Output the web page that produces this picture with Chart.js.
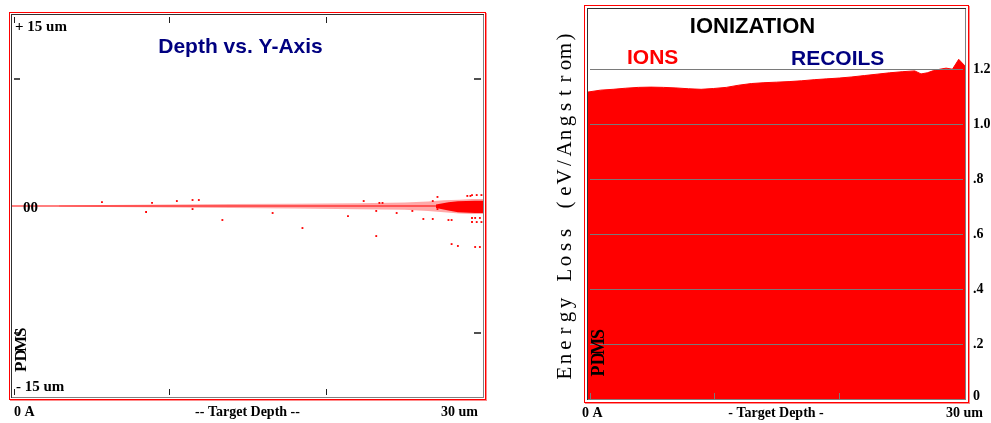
<!DOCTYPE html>
<html><head><meta charset="utf-8">
<script src="https://cdn.jsdelivr.net/npm/chart.js@4.4.0/dist/chart.umd.min.js"></script>
<style>
html,body{margin:0;padding:0;background:#fff;overflow:hidden;width:991px;height:423px}
#c1{position:absolute;left:0;top:0}
#c2{position:absolute;left:495px;top:0}
</style></head><body>
<canvas id="c1" width="495" height="423"></canvas>
<canvas id="c2" width="496" height="423"></canvas>
<script>
// ---------- LEFT PANEL DATA (Depth vs. Y-Axis, um) ----------
const depthMin = 0, depthMax = 30;
const lateralMin = -15, lateralMax = 15;
const trackDepth = [0, 30];
const trackY = [0, 0];
const spreadDepth = [3, 6, 10, 14, 18, 22, 25, 26.5, 27.5, 28.5, 29.3, 30];
const spreadUpper = [0.04, 0.08, 0.12, 0.15, 0.18, 0.22, 0.27, 0.35, 0.45, 0.5, 0.55, 0.55];
const spreadLower = [-0.04, -0.08, -0.12, -0.16, -0.2, -0.25, -0.3, -0.4, -0.5, -0.58, -0.62, -0.62];
const coreDepth = [27.0, 27.8, 28.4, 29.5, 30];
const coreUpper = [0.12, 0.3, 0.38, 0.42, 0.42];
const coreLower = [-0.15, -0.35, -0.5, -0.55, -0.55];
const ionDepthPts = [5.73, 8.54, 8.92, 10.5, 11.5, 11.5, 11.9, 13.4, 16.6, 18.5, 21.4, 22.4, 23.2, 23.2, 23.4, 23.6, 24.5, 25.5, 26.2, 26.8, 26.8, 27.1, 27.1, 27.8, 28.0, 28.0, 28.4, 29.0, 29.2, 29.3, 29.6, 29.9, 29.3, 29.5, 29.8, 29.3, 29.6, 29.9, 29.5, 29.8];
const ionLateralPts = [0.31, -0.47, 0.24, 0.39, 0.47, -0.24, 0.47, -1.10, -0.55, -1.73, -0.79, 0.39, -0.39, -2.36, 0.24, 0.24, -0.55, -0.39, -1.02, 0.39, -1.02, 0.71, -0.24, -1.10, -1.10, -2.99, -3.14, 0.79, 0.79, 0.86, 0.86, 0.86, -0.94, -0.94, -0.94, -1.26, -1.26, -1.26, -3.22, -3.22];
const leftDepthTicks = [10, 20];
const leftLateralTicks = [10, -10];

// ---------- RIGHT PANEL DATA (Ionization, eV/Angstrom) ----------
const ionizDepth = [0, 1, 2, 3, 4, 5, 6, 7, 8, 9, 10, 11, 12, 13, 14, 15, 16, 17, 18, 19, 20, 21, 22, 23, 24, 25, 26, 26.5, 27, 27.5, 28, 28.5, 29, 29.5, 30];
const ionizLoss = [1.116, 1.123, 1.126, 1.130, 1.133, 1.134, 1.133, 1.131, 1.128, 1.126, 1.129, 1.133, 1.141, 1.147, 1.150, 1.152, 1.154, 1.157, 1.161, 1.164, 1.167, 1.171, 1.176, 1.181, 1.186, 1.190, 1.193, 1.182, 1.186, 1.194, 1.199, 1.203, 1.199, 1.235, 1.211];
const lossTicks = [0, 0.2, 0.4, 0.6, 0.8, 1.0, 1.2];
const lossTickLabels = ['0', '.2', '.4', '.6', '.8', '1.0', '1.2'];
const rightDepthTicks = [10, 20];
const lossMax = 1.418;

function pts(xs, ys){ return xs.map((x,i)=>({x:x, y:ys[i]})); }

function hline(ctx,x1,y1,x2,y2){ ctx.beginPath(); ctx.moveTo(x1,y1); ctx.lineTo(x2,y2); ctx.stroke(); }

function frame(ctx, a, off){
  ctx.save();
  ctx.strokeStyle = '#303030'; ctx.lineWidth = 1;
  ctx.strokeRect(a.left-0.5, a.top-0.5, a.width+1, a.height+1);
  ctx.strokeStyle = '#808080';
  hline(ctx, a.right+0.5, a.top, a.right+0.5, a.bottom+1);
  hline(ctx, a.left, a.bottom+0.5, a.right+1, a.bottom+0.5);
  ctx.strokeStyle = '#ff0000';
  ctx.strokeRect(a.left-off-0.5, a.top-off-0.5, a.width+2*off+1, a.height+2*off+1);
  ctx.strokeStyle = '#ff8c8c';
  hline(ctx, a.right+off+1.5, a.top-off, a.right+off+1.5, a.bottom+off+2);
  hline(ctx, a.left-off, a.bottom+off+1.5, a.right+off+2, a.bottom+off+1.5);
  ctx.restore();
}

function vertText(ctx, text, cx, cy, adv, font, color){
  ctx.save();
  ctx.translate(cx, cy);
  ctx.rotate(-Math.PI/2);
  ctx.font = font; ctx.fillStyle = color;
  ctx.textAlign = 'center'; ctx.textBaseline = 'middle';
  const n = text.length;
  for (let i=0;i<n;i++){
    ctx.fillText(text[i], (i-(n-1)/2)*adv, 0);
  }
  ctx.restore();
}

const SERIF_B = 'bold 14px "Liberation Serif", "Times New Roman", serif';

const leftDeco = {
  id: 'leftDeco',
  afterDraw(chart){
    const {ctx, chartArea:a, scales:{x, y}} = chart;
    ctx.save();
    frame(ctx, a, 2);
    ctx.strokeStyle = '#202020'; ctx.lineWidth = 1;
    const tx = [x.getPixelForValue(depthMin)+2].concat(leftDepthTicks.map(d=>x.getPixelForValue(d)));
    tx.forEach(p=>{ const px = Math.round(p)+0.5; hline(ctx, px, a.top+2, px, a.top+8); hline(ctx, px, a.bottom-8, px, a.bottom-2); });
    ctx.strokeStyle = '#505050'; ctx.lineWidth = 2;
    leftLateralTicks.forEach(v=>{ const py = Math.round(y.getPixelForValue(v)); hline(ctx, a.left+2, py, a.left+8, py); hline(ctx, a.right-9, py, a.right-2, py); });
    ctx.fillStyle = '#000'; ctx.font = 'bold 15px "Liberation Serif", serif';
    ctx.textAlign = 'left'; ctx.textBaseline = 'alphabetic';
    ctx.fillText('+ 15 um', 15, 31);
    ctx.fillText('- 15 um', 16, 391);
    ctx.fillText('00', 23, Math.round(y.getPixelForValue(0))+6);
    vertText(ctx, 'PDMS', 22, 349.5, 11.5, 'bold 17px "Liberation Serif", serif', '#000');
    ctx.font = SERIF_B; ctx.textAlign = 'left';
    ctx.fillText('0 A', 14, 416);
    ctx.textAlign = 'center';
    ctx.fillText('-- Target Depth --', 247.5, 416);
    ctx.textAlign = 'right';
    ctx.fillText('30 um', 478, 416);
    ctx.textAlign = 'center';
    ctx.fillStyle = '#000080'; ctx.font = 'bold 21px "Liberation Sans", Arial, sans-serif';
    ctx.fillText('Depth vs. Y-Axis', 240.5, 53);
    ctx.restore();
  }
};

new Chart(document.getElementById('c1'), {
  type: 'line',
  data: {
    datasets: [
      { data: pts(spreadDepth, spreadUpper), borderWidth: 0, borderColor: 'rgba(255,0,0,0)', backgroundColor: 'rgba(255,40,40,0.4)', pointRadius: 0, fill: '+1', order: 3 },
      { data: pts(spreadDepth, spreadLower), borderWidth: 0, borderColor: 'rgba(255,0,0,0)', pointRadius: 0, fill: false, order: 3 },
      { data: pts(coreDepth, coreUpper), borderWidth: 0, borderColor: 'rgba(255,0,0,0)', backgroundColor: '#ff0000', pointRadius: 0, fill: '+1', order: 2 },
      { data: pts(coreDepth, coreLower), borderWidth: 0, borderColor: 'rgba(255,0,0,0)', pointRadius: 0, fill: false, order: 2 },
      { data: pts(trackDepth, trackY), borderWidth: 1.2, borderColor: '#ff0000', pointRadius: 0, fill: false, order: 1 },
      { type: 'scatter', data: pts(ionDepthPts, ionLateralPts), showLine: false, pointStyle: 'rect', pointRadius: 1.3, pointBorderWidth: 0, backgroundColor: '#ff0000', borderColor: '#ff0000', order: 0 }
    ]
  },
  options: {
    responsive: false, animation: false, devicePixelRatio: 1,
    layout: { padding: { left: 12, right: 12, top: 15, bottom: 26 } },
    plugins: { legend: { display: false }, tooltip: { enabled: false } },
    scales: {
      x: { type: 'linear', min: depthMin, max: depthMax, display: false },
      y: { type: 'linear', min: lateralMin, max: lateralMax, display: false }
    }
  },
  plugins: [leftDeco]
});

const rightDeco = {
  id: 'rightDeco',
  afterDatasetsDraw(chart){
    const {ctx, chartArea:a, scales:{x, y}} = chart;
    ctx.save();
    ctx.strokeStyle = '#7a7a7a'; ctx.lineWidth = 1;
    lossTicks.forEach(v=>{ if (v===0) return; const py = Math.round(y.getPixelForValue(v))+0.5; hline(ctx, a.left+2, py, a.right-2, py); });
    [x.getPixelForValue(depthMin)+2].concat(rightDepthTicks.map(d=>x.getPixelForValue(d))).forEach(p=>{ const px = Math.round(p)+0.5; hline(ctx, px, a.bottom-6, px, a.bottom); });
    ctx.restore();
  },
  afterDraw(chart){
    const {ctx, chartArea:a, scales:{x, y}} = chart;
    const O = 495;
    ctx.save();
    frame(ctx, a, 3);
    ctx.fillStyle = '#000'; ctx.font = SERIF_B; ctx.textAlign = 'left'; ctx.textBaseline = 'middle';
    lossTicks.forEach((v,i)=>{ const py = y.getPixelForValue(v); ctx.fillText(lossTickLabels[i], 973-O, v===0 ? py-3 : py); });
    ctx.textBaseline = 'alphabetic';
    ctx.fillText('0 A', 582-O, 417);
    ctx.textAlign = 'center';
    ctx.fillText('- Target Depth -', 776-O, 417);
    ctx.textAlign = 'right';
    ctx.fillText('30 um', 983-O, 417);
    vertText(ctx, 'Energy Loss (eV/Angstrom)', 565-O, 205, 14, '21px "Liberation Serif", serif', '#000');
    vertText(ctx, 'PDMS', 599.5-O, 352.5, 12.3, 'bold 18px "Liberation Serif", serif', '#000');
    ctx.textAlign = 'center';
    ctx.fillStyle = '#000'; ctx.font = 'bold 22px "Liberation Sans", Arial, sans-serif';
    ctx.fillText('IONIZATION', 752.5-O, 33);
    ctx.textAlign = 'left'; ctx.font = 'bold 21px "Liberation Sans", Arial, sans-serif';
    ctx.fillStyle = '#ff0000'; ctx.fillText('IONS', 627-O, 64);
    ctx.fillStyle = '#000080'; ctx.fillText('RECOILS', 791-O, 65);
    ctx.restore();
  }
};

new Chart(document.getElementById('c2'), {
  type: 'line',
  data: {
    datasets: [
      { data: pts(ionizDepth, ionizLoss), borderWidth: 1, borderColor: '#ff0000', backgroundColor: '#ff0000', pointRadius: 0, fill: 'origin', tension: 0 }
    ]
  },
  options: {
    responsive: false, animation: false, devicePixelRatio: 1,
    layout: { padding: { left: 93, right: 26, top: 9, bottom: 24 } },
    plugins: { legend: { display: false }, tooltip: { enabled: false } },
    scales: {
      x: { type: 'linear', min: depthMin, max: depthMax, display: false },
      y: { type: 'linear', min: 0, max: lossMax, display: false }
    }
  },
  plugins: [rightDeco]
});
</script>
</body></html>
